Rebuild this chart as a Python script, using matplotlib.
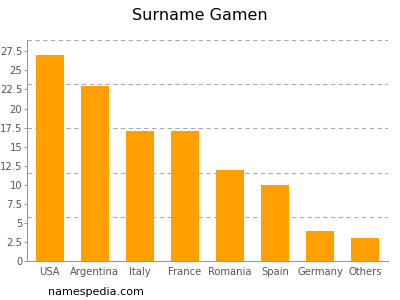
import matplotlib.pyplot as plt
import numpy as np

countries = ['USA', 'Argentina', 'Italy', 'France', 'Romania', 'Spain', 'Germany', 'Others']
counts = [27, 23, 17, 17, 12, 10, 4, 3]
y_ticks = [0, 2.5, 5, 7.5, 10, 12.5, 15, 17.5, 20, 22.5, 25, 27.5]
y_max = 29

fig = plt.figure(figsize=(4, 3), dpi=100)
ax = fig.add_axes([0.0675, 0.13, 0.9025, 0.737])

x = np.arange(len(countries))
ax.bar(x, counts, width=0.62, color='#FFA000', zorder=2)

ax.set_xlim(-0.5, len(countries) - 0.5)
ax.set_ylim(0, y_max)
ax.set_xticks(x)
ax.set_xticklabels(countries)
ax.set_yticks(y_ticks)
ax.set_yticklabels(['{:g}'.format(v) for v in y_ticks])

for g in np.linspace(0, y_max, 6)[1:]:
    ax.axhline(g, color='#aaaaaa', linestyle=(0, (4, 3)), linewidth=0.8, zorder=1)

for side in ['top', 'right']:
    ax.spines[side].set_visible(False)
ax.spines['left'].set_color('#999999')
ax.spines['bottom'].set_color('#999999')
ax.tick_params(colors='#999999', labelcolor='#555555', labelsize=7.2, length=2)
ax.tick_params(axis='y', pad=1.5)
ax.tick_params(axis='x', length=0, pad=4)

fig.text(0.5, 0.95, 'Surname Gamen', ha='center', va='center', fontsize=11.5)
fig.text(0.12, 0.027, 'namespedia.com', ha='left', va='center', fontsize=8)

fig.savefig('out.png', dpi=100)
